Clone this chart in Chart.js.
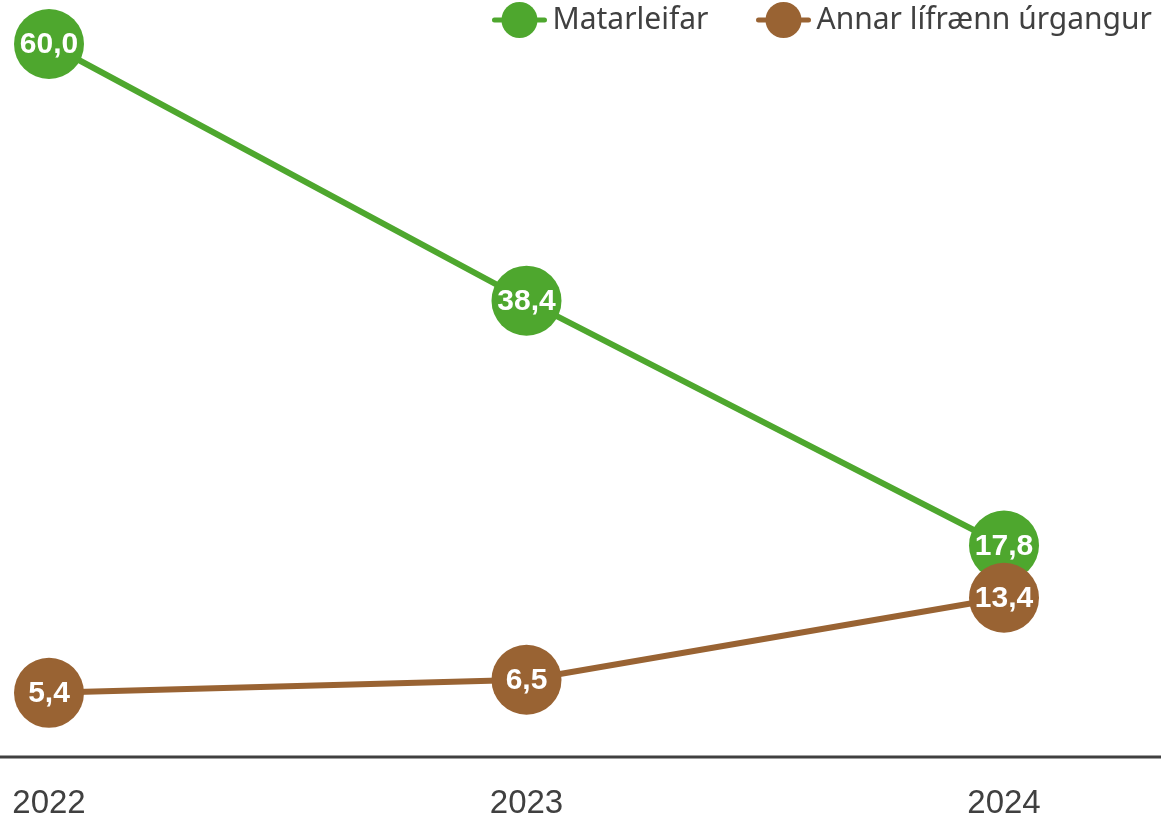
<!DOCTYPE html>
<html>
<head>
<meta charset="utf-8">
<script src="https://cdn.jsdelivr.net/npm/chart.js@4"></script>
<style>
  html, body { margin: 0; padding: 0; background: #ffffff; }
  #wrap { width: 1161px; height: 820px; }
</style>
</head>
<body>
<div id="wrap"><canvas id="chart"></canvas></div>
<script>
// data
const years = ["2022", "2023", "2024"];
const matarleifar = [60.0, 38.4, 17.8];
const annarLifraenn = [5.4, 6.5, 13.4];
const seriesNames = ["Matarleifar", "Annar lífrænn úrgangur"];

const green = "#4ea72e";
const brown = "#996333";
const textGray = "#404040";

// white value labels inside the points
const valueLabels = {
  id: "valueLabels",
  afterDatasetsDraw(chart) {
    const ctx = chart.ctx;
    ctx.save();
    ctx.font = "bold 30px 'Liberation Sans', Arial, sans-serif";
    ctx.fillStyle = "#ffffff";
    ctx.textAlign = "center";
    ctx.textBaseline = "middle";
    chart.data.datasets.forEach((ds, i) => {
      const meta = chart.getDatasetMeta(i);
      meta.data.forEach((pt, j) => {
        const txt = ds.data[j].toFixed(1).replace(".", ",");
        ctx.fillText(txt, pt.x, pt.y + 1);
      });
    });
    ctx.restore();
  }
};

// baseline across the whole width + legend at top right
const extras = {
  id: "extras",
  afterDraw(chart) {
    const ctx = chart.ctx;
    const y0 = chart.scales.y.getPixelForValue(0);
    ctx.save();
    ctx.strokeStyle = textGray;
    ctx.lineWidth = 3;
    ctx.beginPath();
    ctx.moveTo(0, y0);
    ctx.lineTo(chart.width, y0);
    ctx.stroke();

    // legend
    ctx.font = "30px 'Noto Sans', sans-serif";
    ctx.textBaseline = "middle";
    ctx.textAlign = "left";
    const colors = [green, brown];
    const symW = 56, gapText = 5, gapItem = 47, cy = 20;
    let x = 1152;
    for (let i = seriesNames.length - 1; i >= 0; i--) {
      const w = ctx.measureText(seriesNames[i]).width;
      const tx = x - w;
      const sx = tx - gapText - symW;
      ctx.fillStyle = textGray;
      ctx.fillText(seriesNames[i], tx, cy);
      ctx.strokeStyle = colors[i];
      ctx.lineWidth = 5;
      ctx.lineCap = "round";
      ctx.beginPath();
      ctx.moveTo(sx + 3, cy);
      ctx.lineTo(sx + symW - 3, cy);
      ctx.stroke();
      ctx.fillStyle = colors[i];
      ctx.beginPath();
      ctx.arc(sx + symW / 2, cy, 18, 0, Math.PI * 2);
      ctx.fill();
      x = sx - gapItem;
    }
    ctx.restore();
  }
};

const ctx = document.getElementById("chart").getContext("2d");

new Chart(ctx, {
  type: "line",
  data: {
    labels: years,
    datasets: [
      {
        label: seriesNames[0],
        data: matarleifar,
        borderColor: green,
        backgroundColor: green,
        pointBackgroundColor: green,
        pointBorderColor: green,
        borderWidth: 6,
        pointRadius: 35,
        pointBorderWidth: 0,
        pointHoverRadius: 35,
        tension: 0,
        clip: false,
        order: 1
      },
      {
        label: seriesNames[1],
        data: annarLifraenn,
        borderColor: brown,
        backgroundColor: brown,
        pointBackgroundColor: brown,
        pointBorderColor: brown,
        borderWidth: 6,
        pointRadius: 35,
        pointBorderWidth: 0,
        pointHoverRadius: 35,
        tension: 0,
        clip: false,
        order: 0
      }
    ]
  },
  options: {
    responsive: true,
    maintainAspectRatio: false,
    animation: false,
    layout: {
      padding: { left: 49, right: 157, top: 44, bottom: 0 }
    },
    plugins: {
      legend: { display: false },
      tooltip: { enabled: false }
    },
    scales: {
      x: {
        offset: false,
        grid: { display: false, drawTicks: false },
        border: { display: false },
        ticks: {
          color: textGray,
          padding: 30,
          maxRotation: 0,
          font: { family: "'Liberation Sans', Arial, sans-serif", size: 33, lineHeight: 1 }
        },
        afterFit(scale) {
          scale.height = 63;
          scale.paddingLeft = 0;
          scale.paddingRight = 0;
        }
      },
      y: {
        display: false,
        min: 0,
        max: 60
      }
    }
  },
  plugins: [valueLabels, extras]
});
</script>
</body>
</html>
